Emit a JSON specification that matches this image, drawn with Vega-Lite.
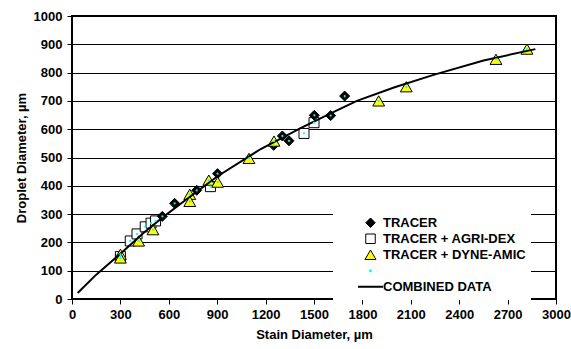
{
  "$schema": "https://vega.github.io/schema/vega-lite/v6.json",
  "width": 484,
  "height": 283,
  "autosize": "none",
  "padding": {"left": 72, "top": 16, "right": 15, "bottom": 50},
  "background": "white",
  "datasets": {
    "points": [
      {"series": "TRACER + AGRI-DEX", "stain": 300, "droplet": 150},
      {"series": "TRACER + AGRI-DEX", "stain": 361, "droplet": 205},
      {"series": "TRACER + AGRI-DEX", "stain": 403, "droplet": 230},
      {"series": "TRACER + AGRI-DEX", "stain": 454, "droplet": 255},
      {"series": "TRACER + AGRI-DEX", "stain": 490, "droplet": 268},
      {"series": "TRACER + AGRI-DEX", "stain": 518, "droplet": 276},
      {"series": "TRACER + AGRI-DEX", "stain": 858, "droplet": 397},
      {"series": "TRACER + AGRI-DEX", "stain": 1438, "droplet": 585},
      {"series": "TRACER + AGRI-DEX", "stain": 1500, "droplet": 623},
      {"series": "TRACER", "stain": 560, "droplet": 292},
      {"series": "TRACER", "stain": 636, "droplet": 338},
      {"series": "TRACER", "stain": 773, "droplet": 384},
      {"series": "TRACER", "stain": 902, "droplet": 443},
      {"series": "TRACER", "stain": 1250, "droplet": 543},
      {"series": "TRACER", "stain": 1304, "droplet": 576},
      {"series": "TRACER", "stain": 1345, "droplet": 559},
      {"series": "TRACER", "stain": 1502, "droplet": 649},
      {"series": "TRACER", "stain": 1603, "droplet": 648},
      {"series": "TRACER", "stain": 1690, "droplet": 717},
      {"series": "TRACER + DYNE-AMIC", "stain": 300, "droplet": 158},
      {"series": "TRACER + DYNE-AMIC", "stain": 300, "droplet": 145},
      {"series": "TRACER + DYNE-AMIC", "stain": 413, "droplet": 205},
      {"series": "TRACER + DYNE-AMIC", "stain": 502, "droplet": 245},
      {"series": "TRACER + DYNE-AMIC", "stain": 730, "droplet": 370},
      {"series": "TRACER + DYNE-AMIC", "stain": 730, "droplet": 345},
      {"series": "TRACER + DYNE-AMIC", "stain": 848, "droplet": 420},
      {"series": "TRACER + DYNE-AMIC", "stain": 903, "droplet": 413},
      {"series": "TRACER + DYNE-AMIC", "stain": 1097, "droplet": 497},
      {"series": "TRACER + DYNE-AMIC", "stain": 1252, "droplet": 558},
      {"series": "TRACER + DYNE-AMIC", "stain": 1901, "droplet": 700},
      {"series": "TRACER + DYNE-AMIC", "stain": 2072, "droplet": 750},
      {"series": "TRACER + DYNE-AMIC", "stain": 2628, "droplet": 847},
      {"series": "TRACER + DYNE-AMIC", "stain": 2820, "droplet": 883}
    ],
    "fit": [
      {"stain": 35, "droplet": 21},
      {"stain": 150, "droplet": 86},
      {"stain": 300, "droplet": 160},
      {"stain": 450, "droplet": 237},
      {"stain": 570, "droplet": 292},
      {"stain": 700, "droplet": 348},
      {"stain": 900, "droplet": 433},
      {"stain": 1170, "droplet": 530},
      {"stain": 1414, "droplet": 603},
      {"stain": 1600, "droplet": 655},
      {"stain": 1766, "droplet": 700},
      {"stain": 2000, "droplet": 748},
      {"stain": 2241, "droplet": 792},
      {"stain": 2551, "droplet": 843},
      {"stain": 2872, "droplet": 883}
    ],
    "note": [{"label": "trendline"}]
  },
  "config": {
    "font": "Liberation Sans",
    "view": {"stroke": "black", "strokeWidth": 2},
    "axis": {
      "domain": false,
      "tickColor": "black",
      "tickSize": 5,
      "tickWidth": 1,
      "labelFont": "Liberation Sans",
      "labelFontSize": 13,
      "labelFontWeight": "bold",
      "labelColor": "black",
      "titleFont": "Liberation Sans",
      "titleFontSize": 13,
      "titleFontWeight": "bold",
      "titleColor": "black",
      "labelOverlap": false,
      "labelFlush": false,
      "tickCount": 30
    },
    "axisX": {"grid": false, "labelPadding": 4, "titlePadding": 7, "format": "d"},
    "axisY": {"grid": true, "gridColor": "black", "gridWidth": 1, "gridOpacity": 1, "labelPadding": 5, "titlePadding": 5, "format": "d"}
  },
  "encoding": {
    "x": {
      "field": "stain", "type": "quantitative",
      "scale": {"domain": [0, 3000], "nice": false, "zero": false},
      "axis": {"values": [0, 300, 600, 900, 1200, 1500, 1800, 2100, 2400, 2700, 3000], "tickCount": 30, "title": "Stain Diameter, µm"}
    },
    "y": {
      "field": "droplet", "type": "quantitative",
      "scale": {"domain": [0, 1000], "nice": false, "zero": false},
      "axis": {"values": [0, 100, 200, 300, 400, 500, 600, 700, 800, 900, 1000], "tickCount": 30, "title": "Droplet Diameter, µm"}
    }
  },
  "layer": [
    {
      "data": {"name": "points"},
      "mark": {"type": "point", "filled": true, "opacity": 1, "strokeWidth": 1},
      "encoding": {
        "shape": {
          "field": "series", "type": "nominal",
          "scale": {"domain": ["TRACER", "TRACER + AGRI-DEX", "TRACER + DYNE-AMIC", "blank", "COMBINED DATA"], "range": ["diamond", "square", "triangle-up", "circle", "stroke"]},
          "legend": {"title": null, "orient": "none", "legendX": 261, "legendY": 194, "fillColor": "white", "padding": 5, "clipHeight": 15.5, "rowPadding": 0, "symbolSize": 625, "symbolOffset": 26, "labelOffset": 6, "labelFont": "Liberation Sans", "labelFontSize": 13, "labelFontWeight": "bold", "labelColor": "black", "labelExpr": "datum.label === 'blank' ? '' : datum.label", "symbolOpacity": 1,
            "encode": {"symbols": {"update": {"size": {"signal": "datum.value === 'COMBINED DATA' ? 625 : datum.value === 'blank' ? 5 : datum.value === 'TRACER + DYNE-AMIC' ? 120 : 90"}, "strokeWidth": {"signal": "datum.value === 'COMBINED DATA' ? 2 : 1"}}}}}
        },
        "fill": {
          "field": "series", "type": "nominal",
          "scale": {"domain": ["TRACER", "TRACER + AGRI-DEX", "TRACER + DYNE-AMIC", "blank", "COMBINED DATA"], "range": ["black", "white", "#FFFF00", "#00FFFF", "transparent"]},
          "legend": {"title": null, "orient": "none", "legendX": 261, "legendY": 194, "fillColor": "white", "padding": 5, "clipHeight": 15.5, "rowPadding": 0, "symbolSize": 625, "symbolOffset": 26, "labelOffset": 6, "labelFont": "Liberation Sans", "labelFontSize": 13, "labelFontWeight": "bold", "labelColor": "black", "labelExpr": "datum.label === 'blank' ? '' : datum.label", "symbolOpacity": 1,
            "encode": {"symbols": {"update": {"size": {"signal": "datum.value === 'COMBINED DATA' ? 625 : datum.value === 'blank' ? 5 : datum.value === 'TRACER + DYNE-AMIC' ? 120 : 90"}, "strokeWidth": {"signal": "datum.value === 'COMBINED DATA' ? 2 : 1"}}}}}
        },
        "stroke": {
          "field": "series", "type": "nominal",
          "scale": {"domain": ["TRACER", "TRACER + AGRI-DEX", "TRACER + DYNE-AMIC", "blank", "COMBINED DATA"], "range": ["black", "black", "black", "#00FFFF", "black"]},
          "legend": {"title": null, "orient": "none", "legendX": 261, "legendY": 194, "fillColor": "white", "padding": 5, "clipHeight": 15.5, "rowPadding": 0, "symbolSize": 625, "symbolOffset": 26, "labelOffset": 6, "labelFont": "Liberation Sans", "labelFontSize": 13, "labelFontWeight": "bold", "labelColor": "black", "labelExpr": "datum.label === 'blank' ? '' : datum.label", "symbolOpacity": 1,
            "encode": {"symbols": {"update": {"size": {"signal": "datum.value === 'COMBINED DATA' ? 625 : datum.value === 'blank' ? 5 : datum.value === 'TRACER + DYNE-AMIC' ? 120 : 90"}, "strokeWidth": {"signal": "datum.value === 'COMBINED DATA' ? 2 : 1"}}}}}
        },
        "size": {"condition": {"test": "datum.series === 'TRACER + DYNE-AMIC'", "value": 140}, "value": 100}
      }
    },
    {
      "data": {"name": "fit"},
      "mark": {"type": "line", "color": "black", "strokeWidth": 2}
    },
    {
      "data": {"name": "points"},
      "mark": {"type": "point", "filled": true, "color": "#00FFFF", "size": 5, "opacity": 1}
    },
    {
      "data": {"name": "note"},
      "mark": {"type": "text", "text": ["y = 9E-09x³ - 0.0001x² + 0.5749x", "R² = 0.9961"], "font": "Liberation Sans", "fontSize": 13.5, "fontWeight": "bold", "lineHeight": 18, "align": "center", "baseline": "middle", "color": "black"},
      "encoding": {
        "x": {"datum": 1300, "type": "quantitative", "axis": {"values": [0, 300, 600, 900, 1200, 1500, 1800, 2100, 2400, 2700, 3000], "tickCount": 30, "title": "Stain Diameter, µm"}},
        "y": {"datum": 925, "type": "quantitative", "axis": {"values": [0, 100, 200, 300, 400, 500, 600, 700, 800, 900, 1000], "tickCount": 30, "title": "Droplet Diameter, µm"}}
      }
    }
  ]
}
